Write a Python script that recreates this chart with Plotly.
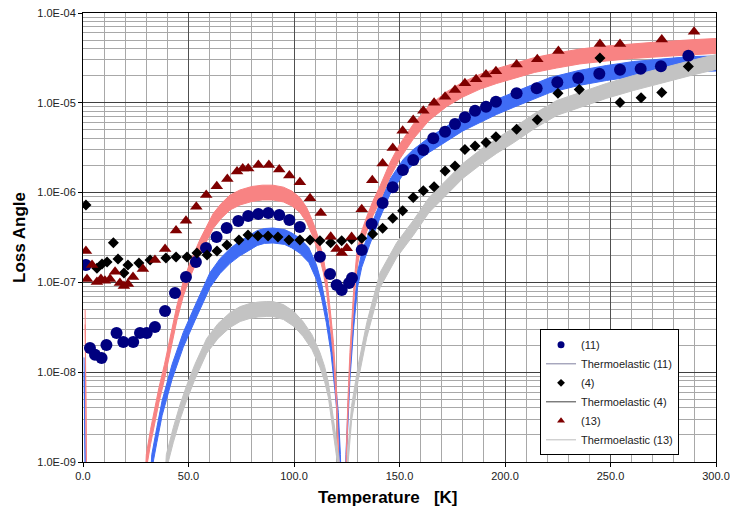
import plotly.graph_objects as go

# ---- measured loss angles -------------------------------------------------
t_11 = [1.4, 3.3, 5.7, 8.8, 11.1, 15.9, 19.1, 23.8, 27.0, 30.2, 34.1, 38.9, 43.6, 48.8, 53.5,
        58.3, 63.3, 68.1, 73.6, 78.3, 83.1, 87.8, 93.0, 97.8, 102.8, 112.3, 117.1, 120.2, 122.6,
        126.1, 127.5, 132.1, 136.8, 142.0, 146.8, 151.6, 156.5, 161.3, 166.0, 171.6, 176.3, 181.0,
        185.8, 191.0, 195.7, 205.5, 215.0, 224.8, 234.7, 244.7, 254.5, 264.3, 273.9, 286.9]
loss_11 = [1.56e-7, 1.86e-8, 1.56e-8, 1.44e-8, 2.01e-8, 2.73e-8, 2.17e-8, 2.17e-8, 2.73e-8, 2.73e-8,
           3.18e-8, 4.80e-8, 7.62e-8, 1.15e-7, 1.69e-7, 2.42e-7, 3.21e-7, 4.04e-7, 4.83e-7, 5.48e-7,
           5.78e-7, 5.93e-7, 5.64e-7, 4.95e-7, 4.14e-7, 1.93e-7, 1.24e-7, 9.35e-8, 8.22e-8, 9.84e-8,
           1.12e-7, 2.30e-7, 4.47e-7, 7.65e-7, 1.15e-6, 1.79e-6, 2.31e-6, 2.98e-6, 4.03e-6, 4.76e-6,
           5.81e-6, 6.90e-6, 8.17e-6, 9.06e-6, 1.03e-5, 1.28e-5, 1.45e-5, 1.69e-5, 1.89e-5, 2.10e-5,
           2.34e-5, 2.40e-5, 2.55e-5, 3.34e-5]

t_4 = [1.4, 6.6, 9.0, 11.4, 14.4, 16.6, 19.4, 21.3, 26.5, 31.8, 39.3, 44.1, 49.3, 54.0, 58.8,
       63.5, 68.2, 73.9, 78.2, 82.9, 87.7, 92.4, 97.6, 102.8, 107.6, 112.3, 117.4, 122.6, 127.3,
       132.1, 137.3, 142.0, 146.8, 151.5, 156.5, 161.3, 166.4, 171.6, 176.3, 181.0, 185.8, 191.0,
       195.7, 205.5, 215.3, 225.1, 235.2, 245.0, 254.5, 264.5, 274.3, 286.9]
loss_4 = [7.28e-7, 1.44e-7, 1.60e-7, 1.69e-7, 2.77e-7, 1.82e-7, 1.27e-7, 1.56e-7, 1.64e-7, 1.78e-7,
          1.87e-7, 1.92e-7, 1.92e-7, 2.13e-7, 2.02e-7, 2.24e-7, 2.61e-7, 2.97e-7, 3.37e-7, 3.29e-7,
          3.29e-7, 3.21e-7, 2.97e-7, 2.97e-7, 2.97e-7, 2.91e-7, 2.77e-7, 2.91e-7, 3.02e-7, 3.10e-7,
          3.46e-7, 4.00e-7, 5.17e-7, 6.29e-7, 8.82e-7, 1.05e-6, 1.16e-6, 1.74e-6, 1.98e-6, 3.02e-6,
          3.30e-6, 3.61e-6, 4.19e-6, 5.07e-6, 6.48e-6, 1.28e-5, 1.41e-5, 3.15e-5, 1.01e-5, 1.14e-5,
          1.30e-5, 2.54e-5]

t_13 = [1.4, 1.9, 4.3, 6.6, 8.5, 10.4, 12.8, 15.2, 17.5, 19.4, 21.3, 23.7, 28.4, 34.1, 38.9,
        44.1, 48.8, 53.7, 58.4, 63.4, 68.4, 73.0, 75.7, 78.3, 83.1, 88.1, 93.0, 97.8, 102.8, 107.6,
        112.7, 117.4, 120.2, 122.6, 125.0, 127.3, 132.1, 137.1, 142.0, 146.8, 151.5, 156.5, 161.3,
        166.4, 171.6, 176.3, 181.0, 186.3, 191.0, 195.7, 205.5, 215.3, 225.3, 245.0, 254.5, 274.3,
        289.6]
loss_13 = [2.24e-7, 1.09e-7, 1.56e-7, 1.01e-7, 1.09e-7, 1.04e-7, 1.09e-7, 1.31e-7, 9.85e-8, 9.12e-8,
           9.60e-8, 1.15e-7, 1.41e-7, 1.78e-7, 2.35e-7, 3.78e-7, 4.87e-7, 6.97e-7, 9.40e-7, 1.18e-6,
           1.42e-6, 1.72e-6, 1.86e-6, 1.86e-6, 2.03e-6, 2.03e-6, 1.81e-6, 1.55e-6, 1.30e-6, 8.64e-7,
           5.93e-7, 3.23e-7, 2.35e-7, 2.13e-7, 2.40e-7, 3.20e-7, 6.52e-7, 1.37e-6, 2.11e-6, 3.14e-6,
           4.89e-6, 6.43e-6, 8.17e-6, 1.00e-5, 1.17e-5, 1.39e-5, 1.65e-5, 1.83e-5, 2.07e-5, 2.25e-5,
           2.67e-5, 3.05e-5, 3.78e-5, 4.52e-5, 4.52e-5, 5.07e-5, 6.18e-5]

# ---- thermoelastic predictions (upper / lower edge of each band) ----------
te_t_11 = [0.5, 1.5, 30.0, 32.6, 35.0, 37.5, 42.2, 47.5, 53.1, 60.2, 65.0, 69.7, 74.0, 77.9, 82.6,
           86.0, 90.0, 95.5, 99.0, 102.8, 107.0, 110.6, 113.0, 115.3, 117.5, 119.4, 121.0, 122.0,
           123.0, 123.6, 124.1, 124.6, 126.5, 128.3, 130.1, 132.1, 136.0, 140.8, 145.5, 151.8,
           156.5, 164.0, 172.4, 180.0, 188.2, 196.0, 203.9, 213.0, 221.3, 235.0, 248.0, 260.8,
           275.0, 287.7, 300.0]
te_hi_11 = [1.46e-8, 1.21e-10, 1.21e-10, 1.21e-9, 2.42e-9, 4.83e-9, 1.22e-8, 2.77e-8, 5.52e-8, 1.29e-7,
            1.85e-7, 2.38e-7, 2.85e-7, 3.24e-7, 3.78e-7, 3.98e-7, 4.03e-7, 3.88e-7, 3.55e-7, 3.10e-7,
            2.44e-7, 1.58e-7, 9.95e-8, 5.25e-8, 2.43e-8, 9.18e-9, 3.56e-9, 1.21e-9, 1.92e-10, 3.83e-11,
            1.92e-10, 1.21e-9, 1.22e-8, 4.61e-8, 1.29e-7, 2.15e-7, 3.91e-7, 7.74e-7, 1.41e-6, 2.35e-6,
            3.01e-6, 4.10e-6, 5.48e-6, 7.13e-6, 8.85e-6, 1.09e-5, 1.30e-5, 1.60e-5, 1.91e-5, 2.29e-5,
            2.60e-5, 2.88e-5, 3.11e-5, 3.27e-5, 3.32e-5]
te_lo_11 = [9.93e-9, 8.26e-11, 8.26e-11, 8.26e-10, 1.65e-9, 3.30e-9, 8.30e-9, 1.89e-8, 3.77e-8, 8.79e-8,
            1.26e-7, 1.63e-7, 1.95e-7, 2.21e-7, 2.58e-7, 2.72e-7, 2.75e-7, 2.65e-7, 2.42e-7, 2.11e-7,
            1.67e-7, 1.08e-7, 6.79e-8, 3.58e-8, 1.66e-8, 6.27e-9, 2.43e-9, 8.26e-10, 1.31e-10, 2.61e-11,
            1.31e-10, 8.26e-10, 8.30e-9, 3.15e-8, 8.79e-8, 1.47e-7, 2.67e-7, 5.28e-7, 9.62e-7, 1.60e-6,
            2.06e-6, 2.80e-6, 3.74e-6, 4.86e-6, 6.04e-6, 7.41e-6, 8.87e-6, 1.09e-5, 1.30e-5, 1.56e-5,
            1.77e-5, 1.96e-5, 2.12e-5, 2.23e-5, 2.26e-5]

te_t_4 = [37.0, 39.5, 42.8, 46.0, 49.1, 53.0, 58.6, 64.0, 69.7, 74.5, 79.1, 83.0, 87.1, 90.0, 95.0,
          100.0, 104.3, 108.5, 112.3, 114.5, 116.3, 118.6, 121.0, 122.5, 123.5, 124.5, 125.4, 127.3,
          130.5, 134.5, 140.8, 148.7, 156.5, 164.0, 172.4, 180.0, 188.2, 196.0, 203.9, 214.0, 224.5,
          235.5, 248.0, 260.8, 275.0, 290.0, 300.0]
te_hi_4 = [1.21e-10, 1.21e-9, 2.42e-9, 4.37e-9, 7.10e-9, 1.22e-8, 2.37e-8, 3.48e-8, 4.61e-8, 5.38e-8,
           5.82e-8, 6.04e-8, 6.12e-8, 6.12e-8, 5.66e-8, 4.73e-8, 3.66e-8, 2.62e-8, 1.66e-8, 1.16e-8,
           7.67e-9, 3.29e-9, 1.21e-9, 1.92e-10, 3.04e-11, 1.92e-10, 1.21e-9, 4.26e-9, 1.22e-8, 3.57e-8,
           1.29e-7, 2.78e-7, 4.89e-7, 8.81e-7, 1.41e-6, 2.11e-6, 2.98e-6, 4.00e-6, 5.24e-6, 7.59e-6,
           1.06e-5, 1.30e-5, 1.64e-5, 2.01e-5, 2.47e-5, 3.03e-5, 3.44e-5]
te_lo_4 = [8.26e-11, 8.26e-10, 1.65e-9, 2.98e-9, 4.84e-9, 8.30e-9, 1.62e-8, 2.38e-8, 3.15e-8, 3.67e-8,
           3.97e-8, 4.12e-8, 4.18e-8, 4.18e-8, 3.86e-8, 3.23e-8, 2.50e-8, 1.79e-8, 1.13e-8, 7.89e-9,
           5.24e-9, 2.24e-9, 8.26e-10, 1.31e-10, 2.07e-11, 1.31e-10, 8.26e-10, 2.90e-9, 8.30e-9, 2.44e-8,
           8.79e-8, 1.90e-7, 3.33e-7, 6.01e-7, 9.62e-7, 1.44e-6, 2.03e-6, 2.73e-6, 3.57e-6, 5.18e-6,
           7.23e-6, 8.87e-6, 1.12e-5, 1.37e-5, 1.69e-5, 2.07e-5, 2.35e-5]

te_t_13 = [1.0, 2.0, 28.0, 30.0, 32.0, 34.0, 36.0, 38.6, 41.5, 44.5, 47.5, 50.7, 55.5, 61.7, 65.5,
           69.7, 74.4, 80.0, 85.0, 90.0, 95.0, 99.0, 102.8, 106.0, 109.1, 111.5, 113.9, 115.5, 117.1,
           118.7, 120.2, 121.5, 122.5, 123.2, 124.0, 124.6, 125.5, 126.5, 127.5, 128.5, 129.7, 131.5,
           134.5, 137.5, 140.8, 145.5, 150.0, 156.5, 164.0, 172.4, 180.0, 188.2, 196.0, 203.9, 214.0,
           224.5, 235.5, 248.0, 260.8, 275.0, 290.0, 300.0]
te_hi_13 = [4.99e-8, 1.21e-10, 1.21e-10, 1.21e-9, 2.30e-9, 4.04e-9, 6.75e-9, 1.22e-8, 2.62e-8, 5.52e-8,
            1.02e-7, 1.66e-7, 3.03e-7, 5.85e-7, 7.55e-7, 9.40e-7, 1.07e-6, 1.17e-6, 1.21e-6, 1.21e-6,
            1.15e-6, 1.04e-6, 8.81e-7, 6.82e-7, 4.65e-7, 3.16e-7, 1.89e-7, 1.13e-7, 5.12e-8, 2.14e-8,
            5.93e-9, 1.21e-9, 3.04e-10, 3.83e-11, 3.04e-10, 1.21e-9, 4.59e-9, 1.66e-8, 4.61e-8, 9.95e-8,
            2.04e-7, 3.41e-7, 5.41e-7, 8.17e-7, 1.19e-6, 2.16e-6, 3.43e-6, 5.77e-6, 9.31e-6, 1.33e-5,
            1.70e-5, 2.08e-5, 2.40e-5, 2.74e-5, 3.19e-5, 3.58e-5, 3.97e-5, 4.29e-5, 4.57e-5, 4.81e-5,
            5.06e-5, 5.20e-5]
te_lo_13 = [3.40e-8, 8.26e-11, 8.26e-11, 8.26e-10, 1.57e-9, 2.75e-9, 4.60e-9, 8.30e-9, 1.79e-8, 3.77e-8,
            6.98e-8, 1.14e-7, 2.07e-7, 3.99e-7, 5.15e-7, 6.41e-7, 7.28e-7, 7.96e-7, 8.28e-7, 8.28e-7,
            7.87e-7, 7.10e-7, 6.01e-7, 4.66e-7, 3.17e-7, 2.16e-7, 1.29e-7, 7.73e-8, 3.49e-8, 1.46e-8,
            4.05e-9, 8.26e-10, 2.07e-10, 2.61e-11, 2.07e-10, 8.26e-10, 3.13e-9, 1.13e-8, 3.15e-8, 6.79e-8,
            1.39e-7, 2.33e-7, 3.69e-7, 5.57e-7, 8.11e-7, 1.48e-6, 2.34e-6, 3.94e-6, 6.35e-6, 9.10e-6,
            1.16e-5, 1.42e-5, 1.64e-5, 1.87e-5, 2.18e-5, 2.44e-5, 2.71e-5, 2.92e-5, 3.12e-5, 3.28e-5,
            3.45e-5, 3.55e-5]

# ---- axis labels ----------------------------------------------------------
y_tick_vals = [1e-9, 1e-8, 1e-7, 1e-6, 1e-5, 1e-4]
y_tick_text = ["1.0E-09", "1.0E-08", "1.0E-07", "1.0E-06", "1.0E-05", "1.0E-04"]
y_minor_vals = [m * 10.0 ** e for e in range(-9, -4) for m in range(2, 10)]

FONT = "Liberation Sans, Arial, sans-serif"
BLUE_BAND = "#3F6CF5"
RED_BAND = "#F88383"
GREY_BAND = "#C3C3C3"

fig = go.Figure()


def add_band(t, lo, hi, color):
    fig.add_trace(go.Scatter(x=t, y=lo, mode="lines", line=dict(color=color, width=1),
                             showlegend=False, hoverinfo="skip"))
    fig.add_trace(go.Scatter(x=t, y=hi, mode="lines", line=dict(color=color, width=1),
                             fill="tonexty", fillcolor=color, showlegend=False, hoverinfo="skip"))


add_band(te_t_11, te_lo_11, te_hi_11, BLUE_BAND)
add_band(te_t_13, te_lo_13, te_hi_13, RED_BAND)
add_band(te_t_4, te_lo_4, te_hi_4, GREY_BAND)

fig.add_trace(go.Scatter(x=t_11, y=loss_11, mode="markers", showlegend=False,
                         marker=dict(symbol="circle", size=12, color="#00007F")))
fig.add_trace(go.Scatter(x=t_4, y=loss_4, mode="markers", showlegend=False,
                         marker=dict(symbol="diamond", size=8.5, color="#000000")))
fig.add_trace(go.Scatter(x=t_13, y=loss_13, mode="markers", showlegend=False,
                         marker=dict(symbol="triangle-up", size=11, color="#7F0000")))

# legend entries
legend_items = [
    ("(11)", dict(mode="markers", marker=dict(symbol="circle", size=7, color="#00007F"))),
    ("Thermoelastic (11)", dict(mode="lines", line=dict(color="#7F7F9F", width=1))),
    ("(4)", dict(mode="markers", marker=dict(symbol="diamond", size=6, color="#000000"))),
    ("Thermoelastic (4)", dict(mode="lines", line=dict(color="#404040", width=1))),
    ("(13)", dict(mode="markers", marker=dict(symbol="triangle-up", size=7, color="#7F0000"))),
    ("Thermoelastic (13)", dict(mode="lines", line=dict(color="#BDBDBD", width=1))),
]
for name, style in legend_items:
    fig.add_trace(go.Scatter(x=[None], y=[None], name=name, **style))

fig.update_layout(
    width=730, height=518,
    margin=dict(l=83, r=14, t=13, b=56, autoexpand=False),
    paper_bgcolor="white", plot_bgcolor="white",
    font=dict(family=FONT, size=11, color="#222222"),
    showlegend=True,
    legend=dict(x=0.722, y=0.2955, xanchor="left", yanchor="top", traceorder="normal",
                bgcolor="white", bordercolor="#000000", borderwidth=1,
                font=dict(family=FONT, size=11, color="#222222"),
                tracegroupgap=0, itemwidth=30),
    annotations=[dict(text="<b>Temperature\u00a0\u00a0\u00a0[K]</b>", xref="paper", yref="paper",
                      x=0.482, y=-0.078, xanchor="center", yanchor="middle", showarrow=False,
                      font=dict(family=FONT, size=17, color="#000000"))],
)

fig.update_xaxes(
    range=[0, 300], dtick=50, tickformat=".1f", automargin=False,
    showline=True, linecolor="#000000", linewidth=1, mirror=True,
    ticks="outside", ticklen=4, tickcolor="#000000",
    showgrid=True, gridcolor="#505050", gridwidth=1,
    minor=dict(dtick=10, showgrid=True, gridcolor="#A8A8A8", gridwidth=1),
    zeroline=False,
)
fig.update_yaxes(
    type="log", range=[-9, -4], automargin=False,
    tickmode="array", tickvals=y_tick_vals, ticktext=y_tick_text,
    showline=True, linecolor="#000000", linewidth=1, mirror=True,
    ticks="outside", ticklen=4, tickcolor="#000000",
    showgrid=True, gridcolor="#404040", gridwidth=1,
    minor=dict(tickmode="array", tickvals=y_minor_vals, showgrid=True, gridcolor="#A8A8A8", gridwidth=1),
    zeroline=False,
    title=dict(text="<b>Loss Angle</b>", font=dict(family=FONT, size=17, color="#000000"), standoff=7),
)

fig.write_html("out.html")
